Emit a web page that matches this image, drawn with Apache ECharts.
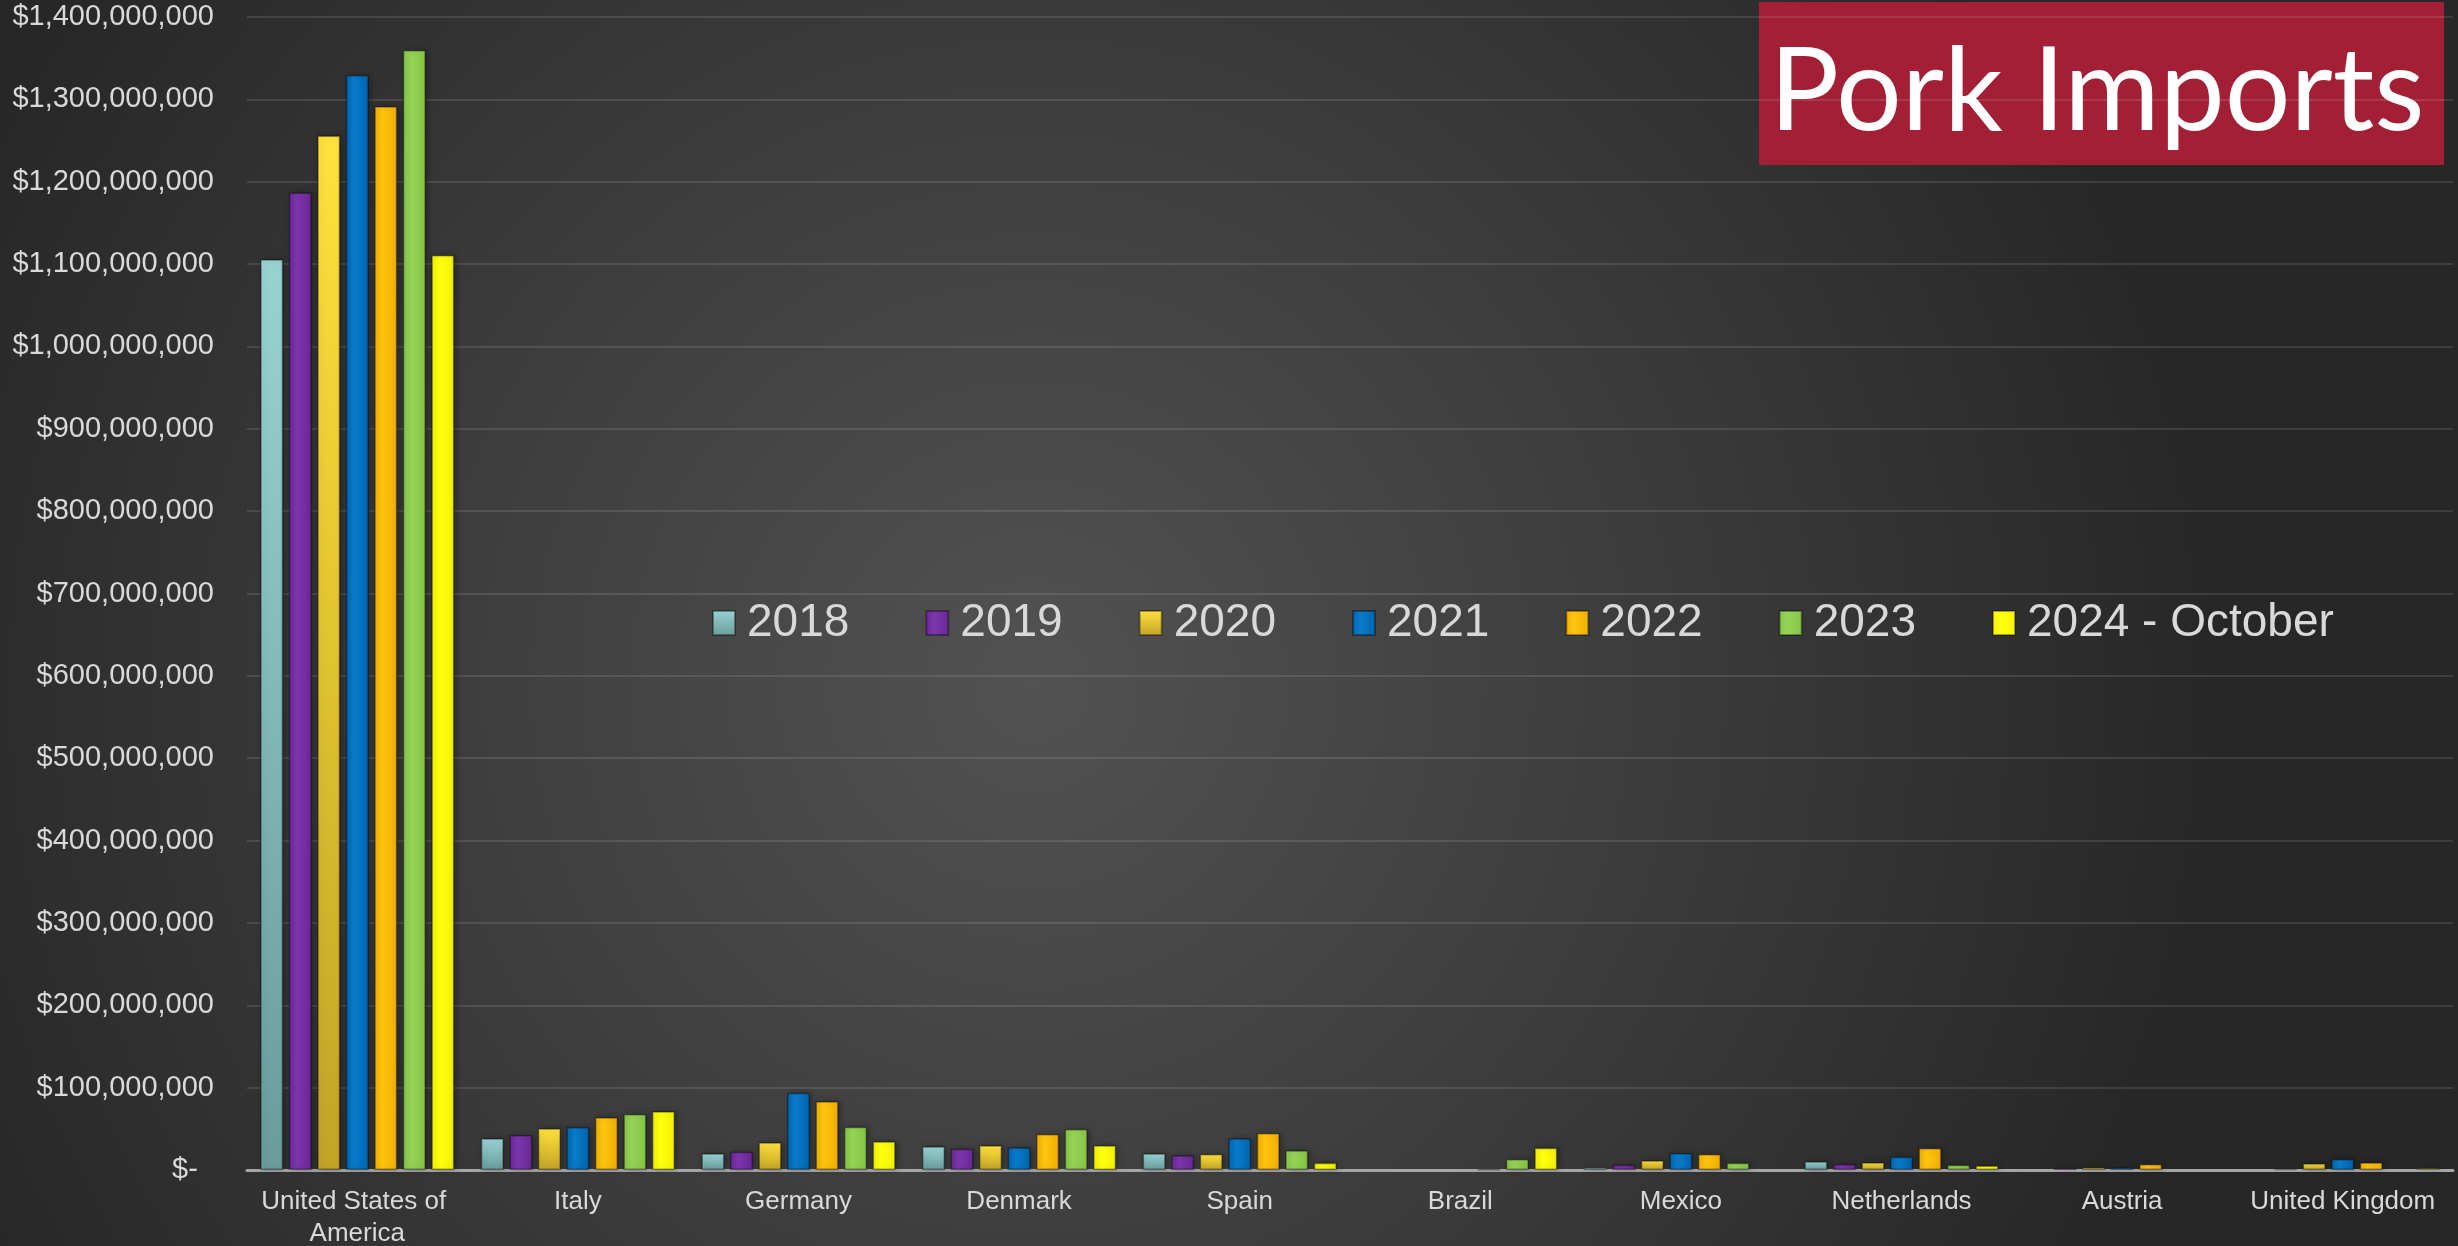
<!DOCTYPE html>
<html>
<head>
<meta charset="utf-8">
<title>Pork Imports</title>
<script src="https://cdn.jsdelivr.net/npm/echarts@6/dist/echarts.min.js"></script>
<style>
  html, body { margin: 0; padding: 0; background: #2a2a2a; }
  #chart { width: 2458px; height: 1246px; }
</style>
</head>
<body>
<div id="chart"></div>
<script>
// categories and series values (millions of dollars)
const countries = ['United States of America', 'Italy', 'Germany', 'Denmark', 'Spain', 'Brazil', 'Mexico', 'Netherlands', 'Austria', 'United Kingdom'];
const years = ['2018', '2019', '2020', '2021', '2022', '2023', '2024 - October'];

const v2018 = [1106, 38.5, 20.2, 28.7, 20.2, 0, 3.6, 10.5, 0, 0];
const v2019 = [1187, 42.5, 22.3, 25.9, 17.8, 0, 6.4, 7.3, 2.5, 1];
const v2020 = [1256, 50.6, 33.6, 30, 19.4, 0, 11.7, 9.3, 3.5, 8.1];
const v2021 = [1329.5, 52.2, 93.9, 27.5, 38.5, 0, 20.6, 16.2, 3, 13.4];
const v2022 = [1291.5, 64, 83.4, 43.7, 44.9, 0.5, 19.4, 26.7, 7.3, 9.3];
const v2023 = [1360, 68, 52.6, 49.8, 23.9, 13.4, 8.9, 6.4, 0, 0];
const v2024 = [1111, 71.3, 34.8, 30, 8.9, 27.1, 0, 5.5, 0, 2.5];

const yTicks = { min: 0, max: 1400000000, interval: 100000000 };

const seriesValues = [v2018, v2019, v2020, v2021, v2022, v2023, v2024];

// bar fills: [light, dark, vertical gradient?]
const fills = [
  ['#98d3d3', '#6a9c9c', true],
  ['#7d36ad', '#6a2795', false],
  ['#ffe23c', '#c4a326', true],
  ['#0a7ccc', '#0064ad', false],
  ['#ffc60f', '#f0ad00', false],
  ['#95d455', '#86c446', false],
  ['#ffff10', '#f2f200', false]
];

const chart = echarts.init(document.getElementById('chart'));

const money = (v) => {
  if (v === 0) return '$-  ';
  return '$' + String(Math.round(v)).replace(/\B(?=(\d{3})+(?!\d))/g, ',');
};

const fillFor = (f) => {
  if (f[2]) {
    return new echarts.graphic.LinearGradient(0, 0, 0, 1, [
      { offset: 0, color: f[0] },
      { offset: 1, color: f[1] }
    ]);
  }
  return new echarts.graphic.LinearGradient(0, 0, 1, 0, [
    { offset: 0, color: f[1] },
    { offset: 0.35, color: f[0] },
    { offset: 1, color: f[1] }
  ]);
};

const font = 'Liberation Sans, Arial, sans-serif';

const option = {
  backgroundColor: {
    type: 'radial',
    x: 0.42,
    y: 0.55,
    r: 0.95,
    colorStops: [
      { offset: 0, color: '#525252' },
      { offset: 0.5, color: '#3d3d3d' },
      { offset: 1, color: '#272727' }
    ]
  },
  animation: false,
  grid: { left: 247, right: 5, top: 17, bottom: 76, containLabel: false, outerBoundsMode: 'none' },
  legend: {
    data: years,
    left: 707,
    top: 593,
    itemWidth: 22,
    itemHeight: 24,
    itemGap: 76,
    icon: 'rect',
    textStyle: { color: '#d9d9d9', fontSize: 46, fontFamily: font, padding: [0, 0, 0, 7], lineHeight: 50 }
  },
  xAxis: {
    type: 'category',
    data: countries,
    axisLine: { lineStyle: { color: '#a6a6a6', width: 3 } },
    axisTick: { show: false },
    axisLabel: {
      color: '#d9d9d9',
      fontSize: 26,
      fontFamily: font,
      margin: 16,
      lineHeight: 32,
      width: 215,
      overflow: 'break',
      interval: 0
    }
  },
  yAxis: {
    type: 'value',
    min: yTicks.min,
    max: yTicks.max,
    interval: yTicks.interval,
    axisLine: { show: false },
    axisTick: { show: false },
    splitLine: { lineStyle: { color: 'rgba(255,255,255,0.11)', width: 2 } },
    axisLabel: {
      color: '#d9d9d9',
      fontSize: 29,
      fontFamily: font,
      margin: 33,
      formatter: money
    }
  },
  graphic: [
    {
      type: 'group',
      left: 1759,
      top: 2,
      children: [
        { type: 'rect', shape: { x: 0, y: 0, width: 685, height: 163 }, style: { fill: '#a21f35' } },
        {
          type: 'text',
          x: 338,
          y: 91,
          style: {
            text: 'Pork Imports',
            fill: '#ffffff',
            font: '116px Lato, "Open Sans", sans-serif',
            textAlign: 'center',
            textVerticalAlign: 'middle'
          }
        }
      ]
    }
  ],
  series: years.map((name, i) => ({
    name: name,
    type: 'bar',
    barGap: '24%',
    barCategoryGap: '12%',
    // empty cells in the source table stay empty
    data: seriesValues[i].map((v) => (v === 0 ? null : v * 1000000)),
    itemStyle: {
      color: fillFor(fills[i]),
      borderColor: 'rgba(0,0,0,0.35)',
      borderWidth: 1.5,
      shadowColor: 'rgba(0,0,0,0.35)',
      shadowBlur: 6,
      shadowOffsetX: 2,
      shadowOffsetY: 0
    }
  }))
};

chart.setOption(option);
</script>
</body>
</html>
